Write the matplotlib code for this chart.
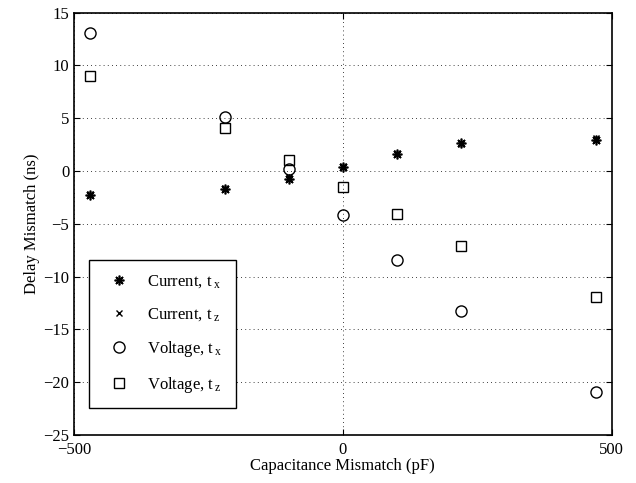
import numpy as np
import matplotlib.pyplot as plt

plt.rcParams['font.family'] = ['Liberation Serif', 'DejaVu Serif']
plt.rcParams['mathtext.fontset'] = 'custom'
plt.rcParams['mathtext.rm'] = 'Liberation Serif'
plt.rcParams['mathtext.it'] = 'Liberation Serif'

# capacitance mismatch (pF)
cap = [-470, -220, -100, 0, 100, 220, 470]

# delay mismatch (ns)
current_tx = [-2.3, -1.7, -0.75, 0.4, 1.6, 2.7, 2.9]
current_tz = [-2.2, -1.6, -0.6, 0.5, 1.7, 2.6, 3.1]
voltage_tx = [13.1, 5.15, 0.2, -4.2, -8.4, -13.3, -20.9]
voltage_tz = [9.0, 4.1, 1.05, -1.5, -4.1, -7.1, -11.9]

fig = plt.figure(figsize=(6.36, 4.83), dpi=100)
ax = fig.add_axes([0.1164, 0.0994, 0.8454, 0.8743])

ax.plot(cap, current_tx, linestyle='none', marker=(8, 2, 0), markersize=7,
        color='k', markeredgewidth=1.2, label=r'Current, t$\,_{\mathrm{x}}$')
ax.plot(cap, current_tz, linestyle='none', marker='x', markersize=5,
        color='k', markeredgewidth=1.0, label=r'Current, t$\,_{\mathrm{z}}$')
ax.plot(cap, voltage_tx, linestyle='none', marker='o', markersize=8,
        markerfacecolor='none', markeredgecolor='k', markeredgewidth=1.0,
        label=r'Voltage, t$\,_{\mathrm{x}}$')
ax.plot(cap, voltage_tz, linestyle='none', marker='s', markersize=7,
        markerfacecolor='none', markeredgecolor='k', markeredgewidth=1.0,
        label=r'Voltage, t$\,_{\mathrm{z}}$')

ax.set_xlim(-500, 500)
ax.set_ylim(-25, 15)
ax.set_xticks([-500, 0, 500])
ax.set_yticks(np.arange(-25, 16, 5))
ax.grid(True, color='k', linestyle=(0, (1, 4)), linewidth=0.6)
ax.tick_params(direction='in', labelsize=12, length=4, width=0.8,
               top=True, right=True)
ax.tick_params(axis='x', pad=5)
for s in ax.spines.values():
    s.set_linewidth(1.2)

ax.set_xlabel('Capacitance Mismatch (pF)', fontsize=12, labelpad=0)
ax.set_ylabel('Delay Mismatch (ns)', fontsize=12, labelpad=2)

leg = ax.legend(loc='lower left', bbox_to_anchor=(0.028, 0.064), fontsize=12,
                frameon=True, fancybox=False, edgecolor='k', framealpha=1,
                borderaxespad=0, handletextpad=0.7, labelspacing=0.95,
                borderpad=0.8, handlelength=2.0)
leg.get_frame().set_linewidth(1.0)

fig.savefig('out.png', dpi=100)
